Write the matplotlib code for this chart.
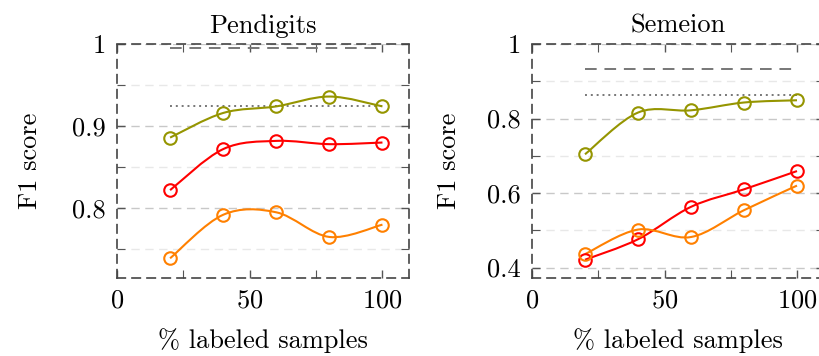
import matplotlib
matplotlib.use("Agg")
import matplotlib.pyplot as plt
from matplotlib.path import Path
from matplotlib.patches import PathPatch
from matplotlib.ticker import MultipleLocator

plt.rcParams['font.family'] = 'serif'
plt.rcParams['font.serif'] = ['cmr10', 'DejaVu Serif']
plt.rcParams['mathtext.fontset'] = 'cm'
plt.rcParams['axes.unicode_minus'] = False
plt.rcParams['axes.formatter.use_mathtext'] = True

# Data
labeled = [20, 40, 60, 80, 100]

pen_olive = [0.886, 0.916, 0.924, 0.936, 0.924]
pen_red = [0.822, 0.872, 0.882, 0.878, 0.880]
pen_orange = [0.739, 0.792, 0.795, 0.765, 0.780]
pen_dashed = 0.995
pen_dotted = 0.925

sem_olive = [0.704, 0.816, 0.822, 0.843, 0.849]
sem_red = [0.421, 0.476, 0.563, 0.610, 0.659]
sem_orange = [0.436, 0.502, 0.482, 0.554, 0.620]
sem_dashed = 0.932
sem_dotted = 0.863

OLIVE = '#959500'
RED = '#ff0000'
ORANGE = '#ff8000'
FS = 19


def smooth_path(xs, ys):
    # cubic bezier through the points, like pgfplots "smooth"
    pts = list(zip(xs, ys))
    verts = [pts[0]]
    codes = [Path.MOVETO]
    n = len(pts)
    for i in range(n - 1):
        p0 = pts[max(i - 1, 0)]
        p1 = pts[i]
        p2 = pts[i + 1]
        p3 = pts[min(i + 2, n - 1)]
        c1 = (p1[0] + (p2[0] - p0[0]) / 6, p1[1] + (p2[1] - p0[1]) / 6)
        c2 = (p2[0] - (p3[0] - p1[0]) / 6, p2[1] - (p3[1] - p1[1]) / 6)
        verts += [c1, c2, p2]
        codes += [Path.CURVE4] * 3
    return Path(verts, codes)


def draw(ax, series, dashed, dotted, ylim, major, minor, title, ypad):
    for ys, col in series:
        ax.add_patch(PathPatch(smooth_path(labeled, ys), fill=False,
                               edgecolor=col, lw=1.5, zorder=3))
        ax.plot(labeled, ys, 'o', ms=9, mfc='none', mec=col, mew=1.5, zorder=4)
    ax.hlines(dashed, labeled[0], labeled[-1], colors='#777777', lw=1.4,
              linestyles=(0, (6, 4)), zorder=2)
    ax.hlines(dotted, labeled[0], labeled[-1], colors='#777777', lw=1.4,
              linestyles=(0, (1, 2)), zorder=2)
    ax.set_xlim(0, 110)
    ax.set_ylim(*ylim)
    ax.xaxis.set_major_locator(MultipleLocator(50))
    ax.xaxis.set_minor_locator(MultipleLocator(25))
    ax.yaxis.set_major_locator(MultipleLocator(major))
    ax.yaxis.set_minor_locator(MultipleLocator(minor))
    ax.yaxis.set_major_formatter(plt.FuncFormatter(lambda v, p: '1' if abs(v - 1) < 1e-9 else f'{v:.1f}'))
    ax.grid(True, which='major', axis='y', color='#c8c8c8', lw=1.0, ls=(0, (6, 4)))
    ax.grid(True, which='minor', axis='y', color='#e8e8e8', lw=1.0, ls=(0, (6, 4)))
    ax.set_axisbelow(True)
    ax.tick_params(which='both', direction='in', top=True, right=True,
                   labelsize=FS, color='#555555', pad=8)
    ax.tick_params(which='major', length=6, width=1.0)
    ax.tick_params(which='minor', length=6, width=0.8)
    for s in ax.spines.values():
        s.set_linestyle((0, (5, 4)))
        s.set_color('#444444')
        s.set_linewidth(1.2)
    ax.set_title(title, fontsize=FS, pad=8)
    ax.set_xlabel('% labeled samples', fontsize=FS, labelpad=11)
    ax.set_ylabel('F1 score', fontsize=FS, labelpad=ypad)


fig = plt.figure(figsize=(8.19, 3.56), dpi=100)
ax1 = fig.add_axes([117 / 819, 78 / 356, 292 / 819, 234 / 356])
ax2 = fig.add_axes([532 / 819, 78 / 356, 291.5 / 819, 234 / 356])

draw(ax1, [(pen_olive, OLIVE), (pen_red, RED), (pen_orange, ORANGE)],
     pen_dashed, pen_dotted, (0.715, 1.0), 0.1, 0.05, 'Pendigits', 22)
draw(ax2, [(sem_olive, OLIVE), (sem_red, RED), (sem_orange, ORANGE)],
     sem_dashed, sem_dotted, (0.372, 1.0), 0.2, 0.1, 'Semeion', 19)

fig.savefig('out.png', dpi=100)
